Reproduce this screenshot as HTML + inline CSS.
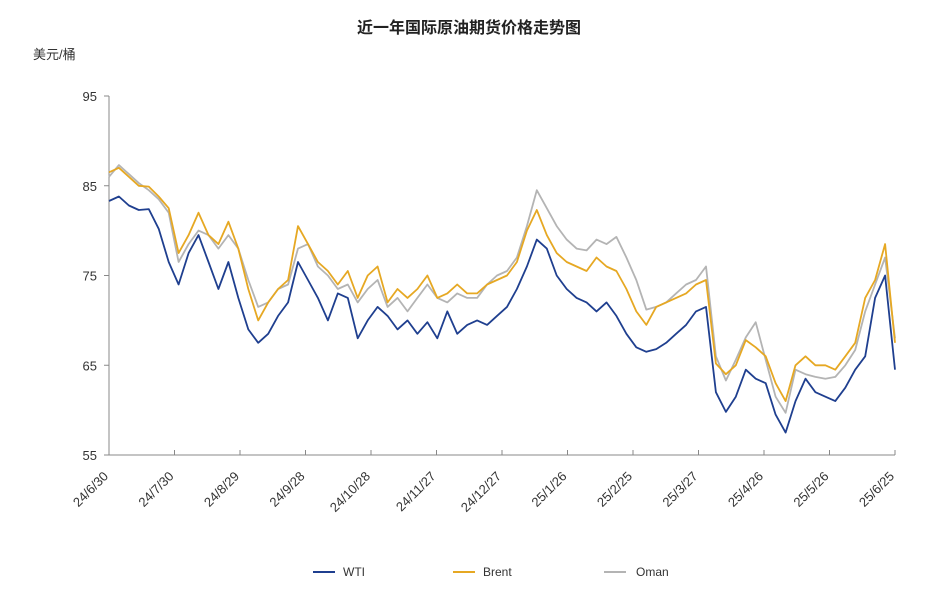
<!DOCTYPE html>
<html><head><meta charset="utf-8"><style>
body{margin:0;background:#fff;}
svg text{font-family:"Liberation Sans","Noto Sans CJK SC",sans-serif;}
</style></head><body>
<svg width="939" height="602" viewBox="0 0 939 602" id="chart">
<text x="469" y="33" text-anchor="middle" font-size="16" font-weight="bold" fill="#222">近一年国际原油期货价格走势图</text>
<text x="33" y="59" font-size="13" fill="#333">美元/桶</text>
<g id="axes"></g><g id="series"></g>
<g>
<line x1="313" y1="572" x2="335" y2="572" stroke="#1f3f8f" stroke-width="2"/>
<text x="343" y="576" font-size="12" font-family="Liberation Mono" fill="#333">WTI</text>
<line x1="453" y1="572" x2="475" y2="572" stroke="#e6a823" stroke-width="2"/>
<text x="483" y="576" font-size="12" font-family="Liberation Mono" fill="#333">Brent</text>
<line x1="604" y1="572" x2="626" y2="572" stroke="#b4b4b4" stroke-width="2"/>
<text x="636" y="576" font-size="12" font-family="Liberation Mono" fill="#333">Oman</text>
</g>
</svg>
<script>
const xLabels=["24/6/30","24/7/30","24/8/29","24/9/28","24/10/28","24/11/27","24/12/27","25/1/26","25/2/25","25/3/27","25/4/26","25/5/26","25/6/25"];
const yTicks=[55,65,75,85,95];
const wti=[83.3,83.8,82.8,82.3,82.4,80.2,76.5,74.0,77.5,79.5,76.5,73.5,76.5,72.5,69.0,67.5,68.5,70.5,72.0,76.5,74.5,72.5,70.0,73.0,72.5,68.0,70.0,71.5,70.5,69.0,70.0,68.5,69.8,68.0,71.0,68.5,69.5,70.0,69.5,70.5,71.5,73.5,76.0,79.0,78.0,75.0,73.5,72.5,72.0,71.0,72.0,70.5,68.5,67.0,66.5,66.8,67.5,68.5,69.5,71.0,71.5,62.0,59.8,61.5,64.5,63.5,63.0,59.5,57.5,61.0,63.5,62.0,61.5,61.0,62.5,64.5,66.0,72.5,75.0,64.5];
const brent=[86.5,87.0,86.0,85.0,84.9,83.8,82.5,77.5,79.5,82.0,79.5,78.5,81.0,78.0,73.5,70.0,72.0,73.5,74.5,80.5,78.5,76.5,75.5,74.0,75.5,72.5,75.0,76.0,72.0,73.5,72.5,73.5,75.0,72.5,73.0,74.0,73.0,73.0,74.0,74.5,75.0,76.5,80.0,82.3,79.5,77.5,76.5,76.0,75.5,77.0,76.0,75.5,73.5,71.0,69.5,71.5,72.0,72.5,73.0,74.0,74.5,65.2,64.0,65.0,67.8,67.0,66.0,63.0,61.0,65.0,66.0,65.0,65.0,64.5,66.0,67.5,72.5,74.5,78.5,67.5];
const oman=[86.0,87.3,86.3,85.3,84.5,83.5,82.0,76.5,78.5,80.0,79.5,78.0,79.5,78.0,74.5,71.5,72.0,73.5,74.0,78.0,78.5,76.0,75.0,73.5,74.0,72.0,73.5,74.5,71.5,72.5,71.0,72.5,74.0,72.5,72.0,73.0,72.5,72.5,74.0,75.0,75.5,77.0,80.5,84.5,82.5,80.5,79.0,78.0,77.8,79.0,78.5,79.3,77.0,74.5,71.2,71.5,72.0,73.0,74.0,74.5,76.0,66.0,63.3,65.6,68.1,69.8,65.6,61.5,59.7,64.5,64.0,63.7,63.5,63.7,65.0,66.7,71.0,74.0,77.0,68.0];
const X0=109,X1=895,Y0=455,Y1=96,VMIN=55,VMAX=95;
const NS="http://www.w3.org/2000/svg";
function yScale(v){return Y0-(v-VMIN)/(VMAX-VMIN)*(Y0-Y1);}
function xIdx(i,n){return X0+i*(X1-X0)/(n-1);}
function mk(t,a,p){const e=document.createElementNS(NS,t);for(const k in a)e.setAttribute(k,a[k]);p.appendChild(e);return e;}
const ax=document.getElementById('axes');
let e=mk('line',{x1:X0,y1:Y1,x2:X0,y2:Y0,stroke:'#888','stroke-width':1},ax);


e=mk('line',{x1:X0,y1:Y0,x2:X1,y2:Y0,stroke:'#888','stroke-width':1},ax);


yTicks.forEach(v=>{const y=yScale(v);
 mk('line',{x1:X0-5,y1:y,x2:X0,y2:y,stroke:'#888'},ax);
 const t=mk('text',{x:X0-12,y:y+5,'text-anchor':'end','font-size':13,fill:'#333'},ax);
 
 
 t.textContent=v;});
xLabels.forEach((l,i)=>{const x=xIdx(i,xLabels.length);
 mk('line',{x1:x,y1:Y0-5,x2:x,y2:Y0,stroke:'#888'},ax);
 const t=mk('text',{x:x,y:Y0+22,'text-anchor':'end','font-size':13,fill:'#333',transform:`rotate(-45 ${x} ${Y0+22})`},ax);
 
 
 t.textContent=l;});
const sg=document.getElementById('series');
[[oman,'#b4b4b4','oman-line'],[brent,'#e6a823','brent-line'],[wti,'#1f3f8f','wti-line']].forEach(([d,c,n])=>{
 const pts=d.map((v,i)=>xIdx(i,d.length).toFixed(1)+','+yScale(v).toFixed(1)).join(' ');
 const p=mk('polyline',{points:pts,fill:'none',stroke:c,'stroke-width':1.8,'stroke-linejoin':'round'},sg);
 
 
});
</script>
</body></html>
